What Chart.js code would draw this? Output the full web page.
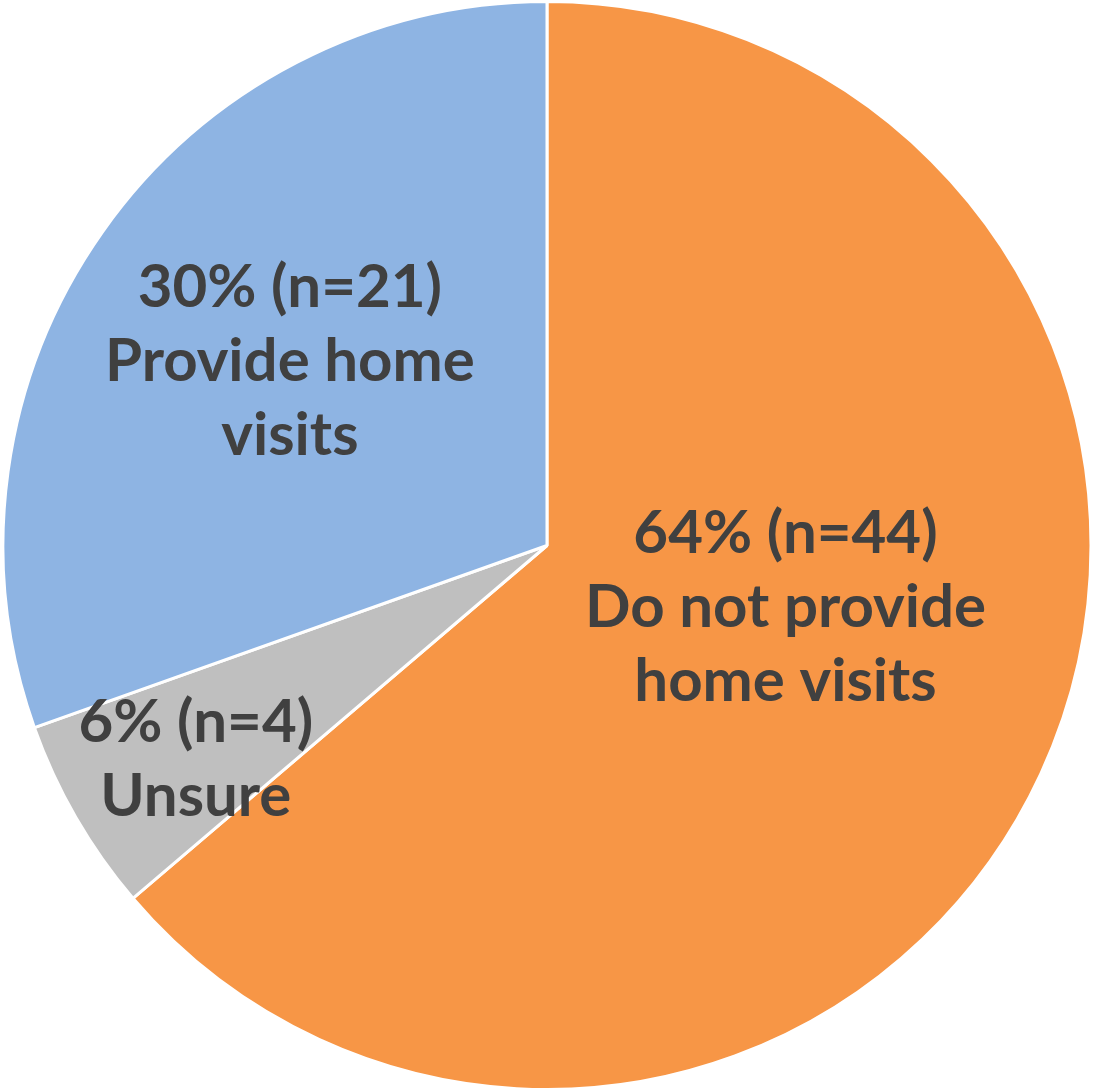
<!DOCTYPE html>
<html lang="en">
<head>
    <meta charset="UTF-8">
    <title>Home Visits</title>
    <script src="https://cdn.jsdelivr.net/npm/chart.js"></script>
    <style>
        html, body { margin: 0; padding: 0; background: #fff; }
        #homeVisitChart { display: block; }
    </style>
</head>
<body>
    <canvas id="homeVisitChart" width="1094" height="1091"></canvas>
    <script>
        // survey answers, in the order they go round the pie from 12 o'clock
        const categories = ['Do not provide home visits', 'Unsure', 'Provide home visits'];
        const counts = [44, 4, 21];
        const percents = [64, 6, 30];
        const sliceColors = ['#F79646', '#BFBFBF', '#8EB4E3'];

        // label text lines per slice
        const labelLines = [
            [percents[0] + '% (n=' + counts[0] + ')', 'Do not provide', 'home visits'],
            [percents[1] + '% (n=' + counts[1] + ')', 'Unsure'],
            [percents[2] + '% (n=' + counts[2] + ')', 'Provide home', 'visits']
        ];

        // where each label block sits, as fractions of the chart area (x centre, first baseline)
        const labelSpots = [
            { x: 0.718, y: 0.507 },
            { x: 0.179, y: 0.680 },
            { x: 0.265, y: 0.281 }
        ];

        const sliceLabels = {
            id: 'sliceLabels',
            afterDatasetsDraw(chart) {
                const ctx = chart.ctx;
                const area = chart.chartArea;
                const lineHeight = 74;
                ctx.save();
                ctx.fillStyle = '#404040';
                ctx.font = 'bold 60px Lato, "Open Sans", sans-serif';
                ctx.textAlign = 'center';
                ctx.textBaseline = 'alphabetic';
                labelLines.forEach((lines, i) => {
                    const x = area.left + labelSpots[i].x * area.width;
                    const y = area.top + labelSpots[i].y * area.height;
                    lines.forEach((line, j) => {
                        ctx.fillText(line, x, y + j * lineHeight);
                    });
                });
                ctx.restore();
            }
        };

        new Chart(document.getElementById('homeVisitChart').getContext('2d'), {
            type: 'pie',
            data: {
                labels: categories,
                datasets: [{
                    data: counts,
                    backgroundColor: sliceColors,
                    borderColor: '#ffffff',
                    borderWidth: 3
                }]
            },
            options: {
                responsive: false,
                animation: false,
                layout: { padding: 0 },
                plugins: {
                    legend: { display: false },
                    tooltip: { enabled: false }
                }
            },
            plugins: [sliceLabels]
        });
    </script>
</body>
</html>
